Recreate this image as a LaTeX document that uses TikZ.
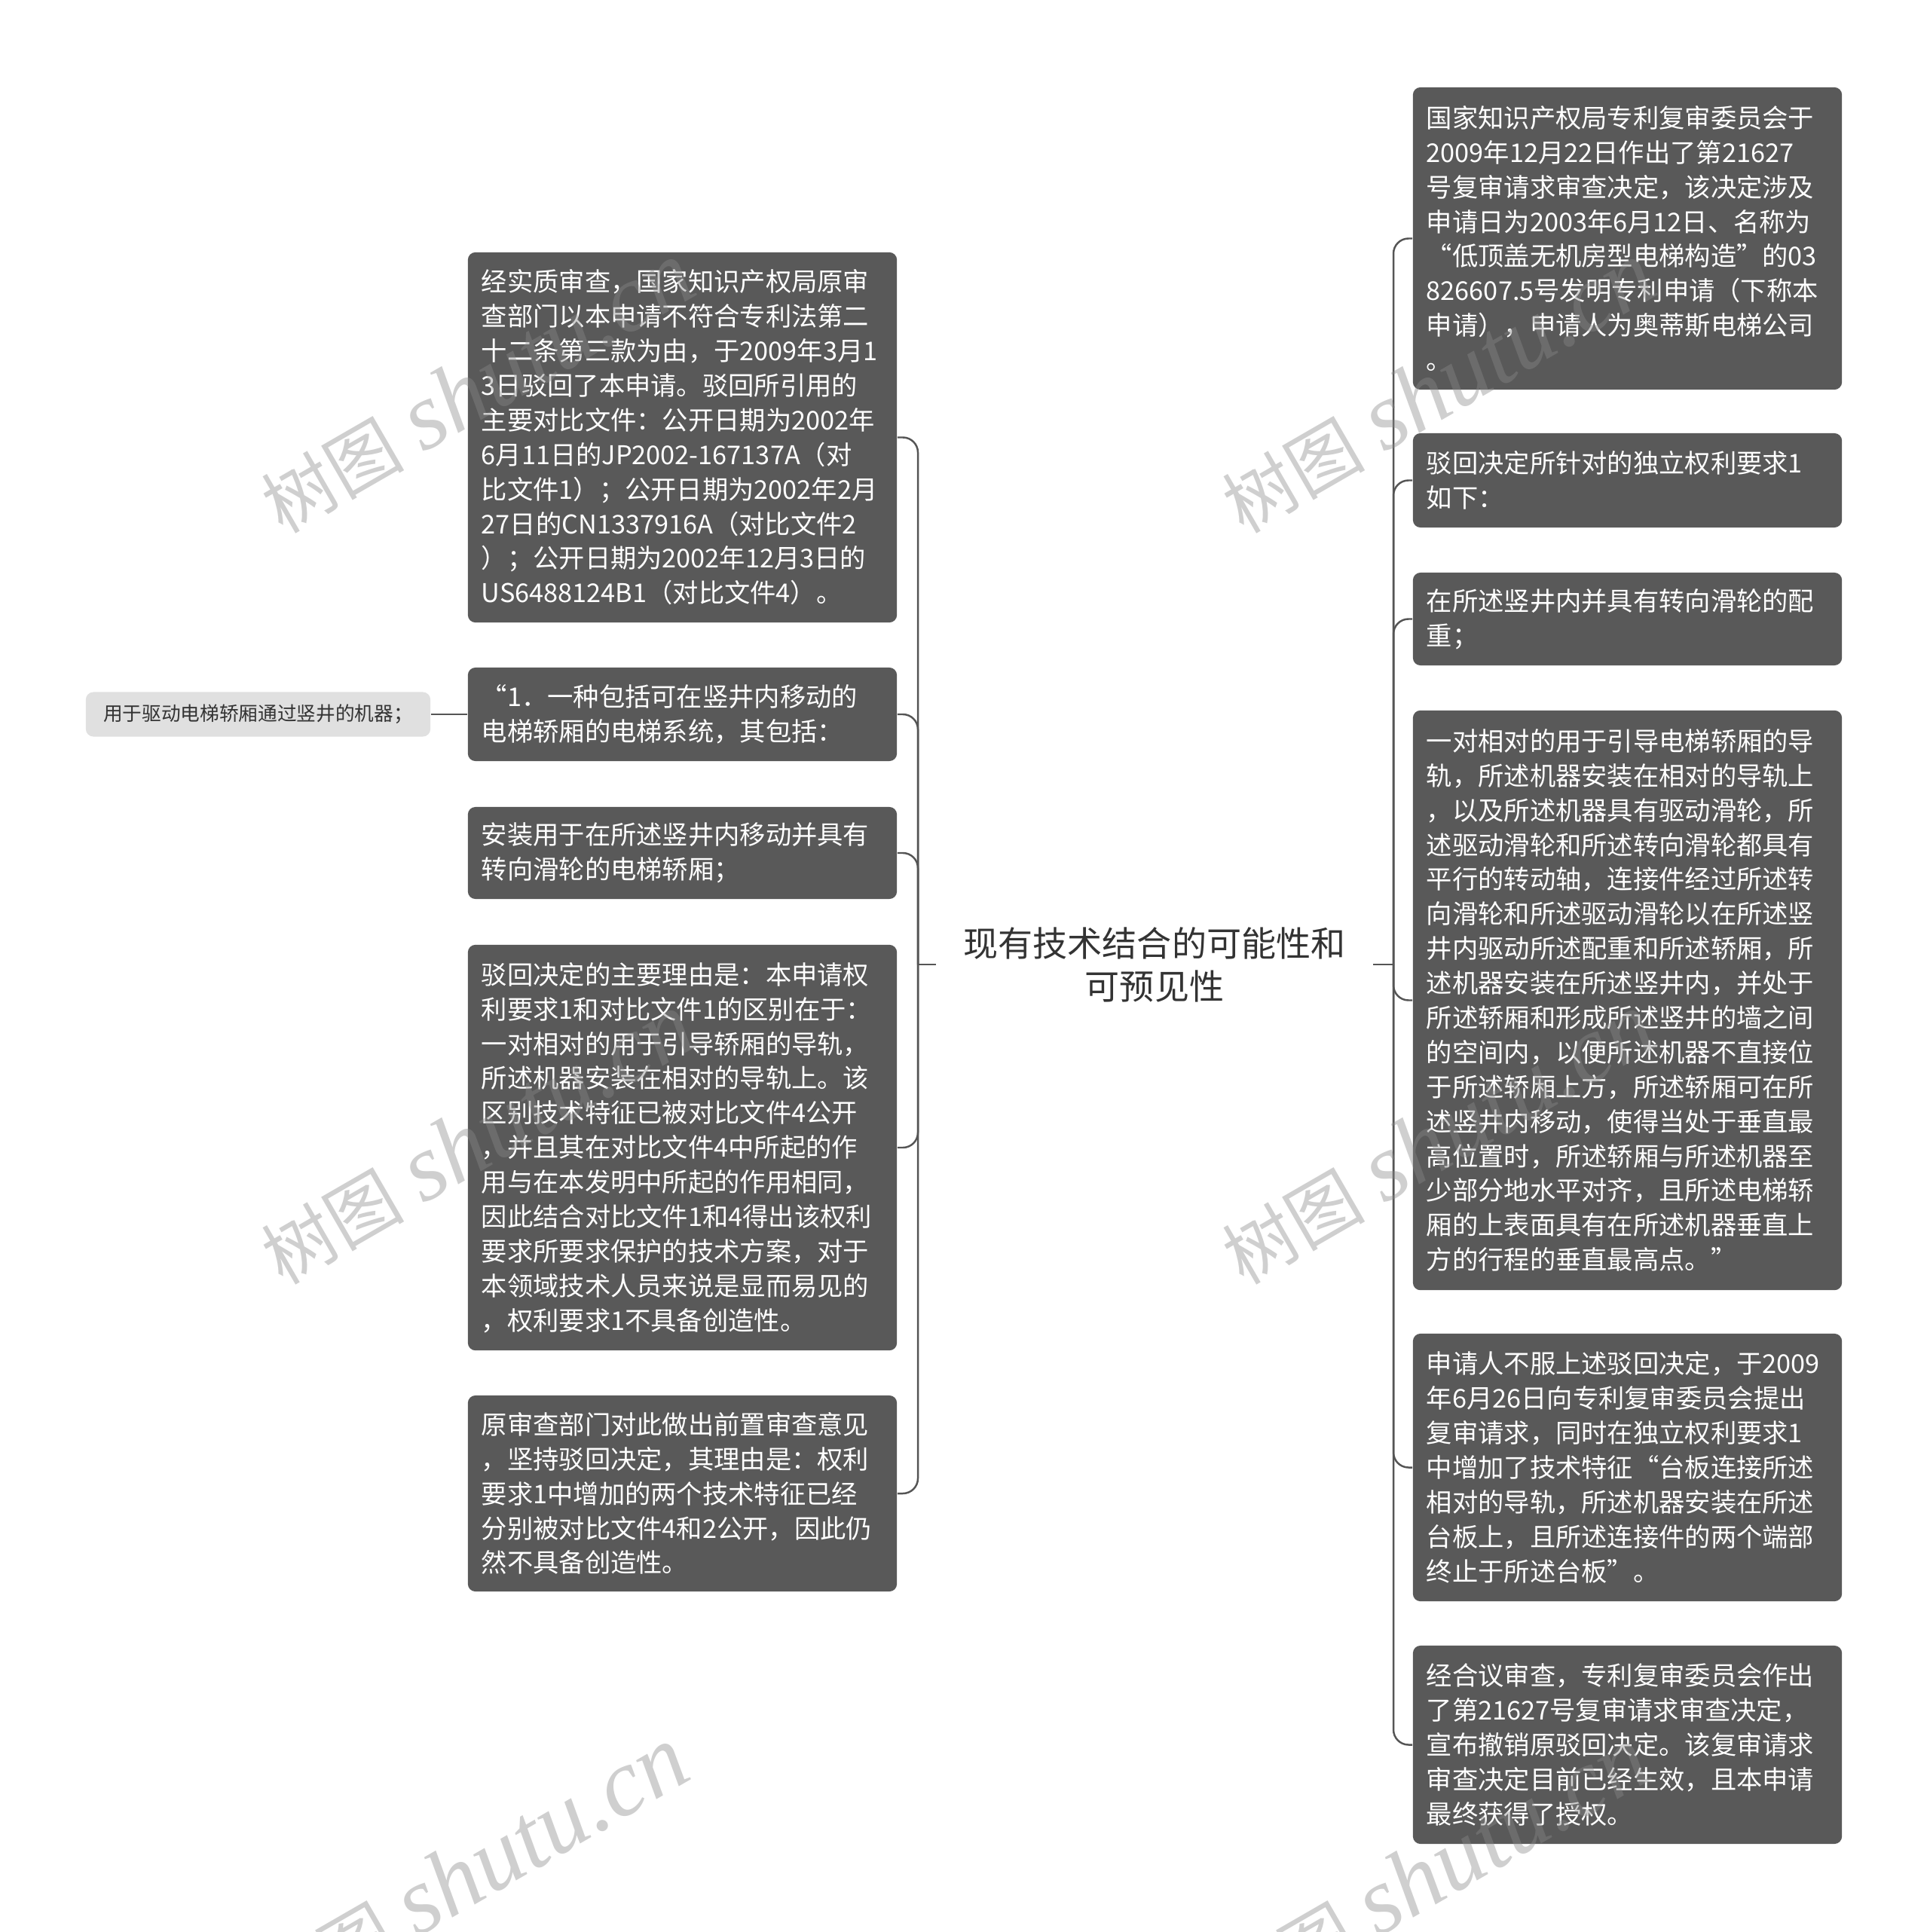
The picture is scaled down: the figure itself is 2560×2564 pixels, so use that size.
\documentclass[tikz,border=0pt]{standalone}
\usepackage{fontspec}
\setmainfont{Noto Sans CJK SC}
\newfontfamily\wmSerif{Liberation Serif}
\usepackage{tikz}
\usetikzlibrary{positioning}

\definecolor{boxGray}{HTML}{595959}
\definecolor{leafGray}{HTML}{E0E0E0}
\definecolor{lineGray}{HTML}{555555}
\definecolor{rootText}{HTML}{333333}
\definecolor{wmGray}{HTML}{898989}

\begin{document}
\begin{tikzpicture}[x=0.01cm,y=-0.01cm,
    box/.style={fill=boxGray,text=white,rounded corners=0.1cm,align=left,
        text width=5.33cm,inner xsep=0.18cm,inner ysep=0pt,
        font=\fontsize{9.75pt}{13.05pt}\selectfont},
    leaf/.style={fill=leafGray,text=rootText,rounded corners=0.1cm,align=center,
        minimum width=4.57cm,minimum height=0.59cm,inner sep=0pt,
        font=\fontsize{7.3pt}{9pt}\selectfont},
    topic/.style={text=rootText,align=center,minimum width=5.79cm,inner sep=0pt,
        font=\fontsize{13.1pt}{16.2pt}\selectfont},
    link/.style={draw=lineGray,line width=0.7pt,rounded corners=0.2cm},
    wmText/.style={text=wmGray,opacity=0.4,rotate=30,anchor=west,inner sep=0pt}]
    \fill[white] (0,0) rectangle (2560,2564);
    \useasboundingbox (0,0) rectangle (2560,2564);

    \node[topic] (root) at (1532,1280) {现有技术结合的可能性和\\可预见性};
    \coordinate (leftHub) at (1218,1280);
    \coordinate (rightHub) at (1849,1280);

    \node[box,minimum height=4.91cm] (firstExam) at (905.5,580.5) {经实质审查，国家知识产权局原审\\查部门以本申请不符合专利法第二\\十二条第三款为由，于2009年3月1\\3日驳回了本申请。驳回所引用的\\主要对比文件：公开日期为2002年\\6月11日的JP2002-167137A（对\\比文件1）；公开日期为2002年2月\\27日的CN1337916A（对比文件2\\）；公开日期为2002年12月3日的\\US6488124B1（对比文件4）。};
    \node[box,minimum height=1.24cm] (claimIntro) at (905.5,948) {“1．一种包括可在竖井内移动的\\电梯轿厢的电梯系统，其包括：};
    \node[box,minimum height=1.22cm] (carItem) at (905.5,1132) {安装用于在所述竖井内移动并具有\\转向滑轮的电梯轿厢；};
    \node[box,minimum height=5.38cm] (rejectReason) at (905.5,1523) {驳回决定的主要理由是：本申请权\\利要求1和对比文件1的区别在于：\\一对相对的用于引导轿厢的导轨，\\所述机器安装在相对的导轨上。该\\区别技术特征已被对比文件4公开\\，并且其在对比文件4中所起的作\\用与在本发明中所起的作用相同，\\因此结合对比文件1和4得出该权利\\要求所要求保护的技术方案，对于\\本领域技术人员来说是显而易见的\\，权利要求1不具备创造性。};
    \node[box,minimum height=2.60cm] (preExam) at (905.5,1982) {原审查部门对此做出前置审查意见\\，坚持驳回决定，其理由是：权利\\要求1中增加的两个技术特征已经\\分别被对比文件4和2公开，因此仍\\然不具备创造性。};
    \node[leaf] (machineLeaf) at (342.5,948) {用于驱动电梯轿厢通过竖井的机器；};

    \node[box,minimum height=4.01cm] (decisionInfo) at (2159.5,316.5) {国家知识产权局专利复审委员会于\\2009年12月22日作出了第21627\\号复审请求审查决定，该决定涉及\\申请日为2003年6月12日、名称为\\“低顶盖无机房型电梯构造”的03\\826607.5号发明专利申请（下称本\\申请），申请人为奥蒂斯电梯公司\\。};
    \node[box,minimum height=1.25cm] (claimHead) at (2159.5,637.5) {驳回决定所针对的独立权利要求1\\如下：};
    \node[box,minimum height=1.23cm] (weightItem) at (2159.5,821.5) {在所述竖井内并具有转向滑轮的配\\重；};
    \node[box,minimum height=7.69cm] (railItem) at (2159.5,1327.5) {一对相对的用于引导电梯轿厢的导\\轨，所述机器安装在相对的导轨上\\，以及所述机器具有驱动滑轮，所\\述驱动滑轮和所述转向滑轮都具有\\平行的转动轴，连接件经过所述转\\向滑轮和所述驱动滑轮以在所述竖\\井内驱动所述配重和所述轿厢，所\\述机器安装在所述竖井内，并处于\\所述轿厢和形成所述竖井的墙之间\\的空间内，以便所述机器不直接位\\于所述轿厢上方，所述轿厢可在所\\述竖井内移动，使得当处于垂直最\\高位置时，所述轿厢与所述机器至\\少部分地水平对齐，且所述电梯轿\\厢的上表面具有在所述机器垂直上\\方的行程的垂直最高点。”};
    \node[box,minimum height=3.55cm] (appealInfo) at (2159.5,1947.5) {申请人不服上述驳回决定，于2009\\年6月26日向专利复审委员会提出\\复审请求，同时在独立权利要求1\\中增加了技术特征“台板连接所述\\相对的导轨，所述机器安装在所述\\台板上，且所述连接件的两个端部\\终止于所述台板”。};
    \node[box,minimum height=2.63cm] (finalDecision) at (2159.5,2315.5) {经合议审查，专利复审委员会作出\\了第21627号复审请求审查决定，\\宣布撤销原驳回决定。该复审请求\\审查决定目前已经生效，且本申请\\最终获得了授权。};


\draw[link] (root.west) -- (leftHub);
\draw[link] (leftHub) |- (firstExam.east);
\draw[link] (leftHub) |- (claimIntro.east);
\draw[link] (leftHub) |- (carItem.east);
\draw[link] (leftHub) |- (rejectReason.east);
\draw[link] (leftHub) |- (preExam.east);
\draw[link] (claimIntro.west) -- (machineLeaf.east);
\draw[link] (root.east) -- (rightHub);
\draw[link] (rightHub) |- (decisionInfo.west);
\draw[link] (rightHub) |- (claimHead.west);
\draw[link] (rightHub) |- (weightItem.west);
\draw[link] (rightHub) |- (railItem.west);
\draw[link] (rightHub) |- (appealInfo.west);
\draw[link] (rightHub) |- (finalDecision.west);

\foreach \wx/\wy [count=\wi] in {355/675,355/1672,347/2645,1630/675,1630/1672,1622/2645}
    \node[wmText] (watermark\wi) at (\wx,\wy) {\fontsize{27pt}{27pt}\selectfont 树图\hspace{0.25cm}{\wmSerif\itshape\fontsize{36pt}{36pt}\selectfont shutu.cn}};

\end{tikzpicture}
\end{document}
